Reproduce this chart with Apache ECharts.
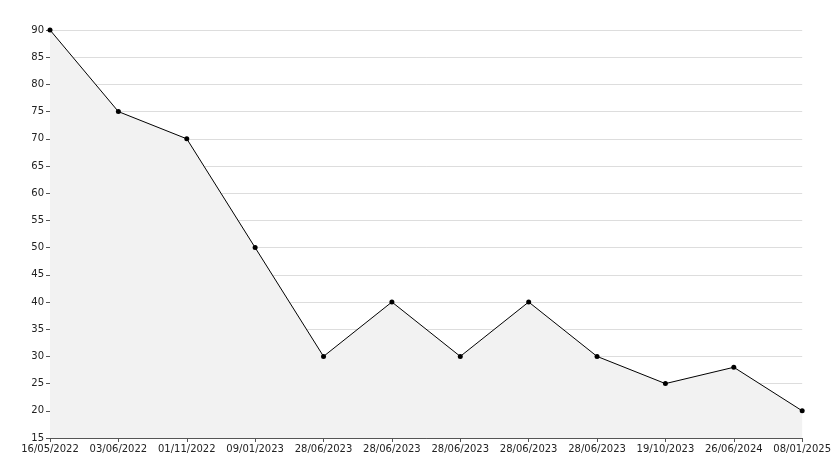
<!DOCTYPE html>
<html>
<head>
<meta charset="utf-8">
<script src="https://cdn.jsdelivr.net/npm/echarts@6/dist/echarts.min.js"></script>
</head>
<body style="margin:0">
<div id="main" style="width:834px;height:468px;"></div>
<script>
var dates = ['16/05/2022', '03/06/2022', '01/11/2022', '09/01/2023', '28/06/2023', '28/06/2023',
    '28/06/2023', '28/06/2023', '28/06/2023', '19/10/2023', '26/06/2024', '08/01/2025'];
var values = [90, 75, 70, 50, 30, 40, 30, 40, 30, 25, 28, 20];

var chart = echarts.init(document.getElementById('main'));
chart.setOption({
    animation: false,
    backgroundColor: '#fff',
    grid: {left: 50, right: 29, top: 30, bottom: 30},
    xAxis: {
        type: 'category',
        data: dates,
        boundaryGap: false,
        axisLine: {lineStyle: {color: '#555'}},
        axisTick: {lineStyle: {color: '#555'}, length: 4},
        axisLabel: {color: '#222', fontFamily: 'DejaVu Sans', fontSize: 10, interval: 0, margin: 6},
        splitLine: {show: false}
    },
    yAxis: {
        type: 'value',
        min: 15, max: 90, interval: 5,
        axisLine: {show: true, lineStyle: {color: '#555'}},
        axisTick: {show: true, lineStyle: {color: '#555'}, length: 4},
        axisLabel: {color: '#222', fontFamily: 'DejaVu Sans', fontSize: 10, margin: 6},
        splitLine: {lineStyle: {color: '#ddd'}}
    },
    series: [{
        type: 'line',
        data: values,
        symbol: 'circle',
        symbolSize: 5,
        itemStyle: {color: '#000'},
        lineStyle: {color: '#000', width: 1},
        areaStyle: {color: '#f2f2f2', opacity: 1}
    }]
});
</script>
</body>
</html>
